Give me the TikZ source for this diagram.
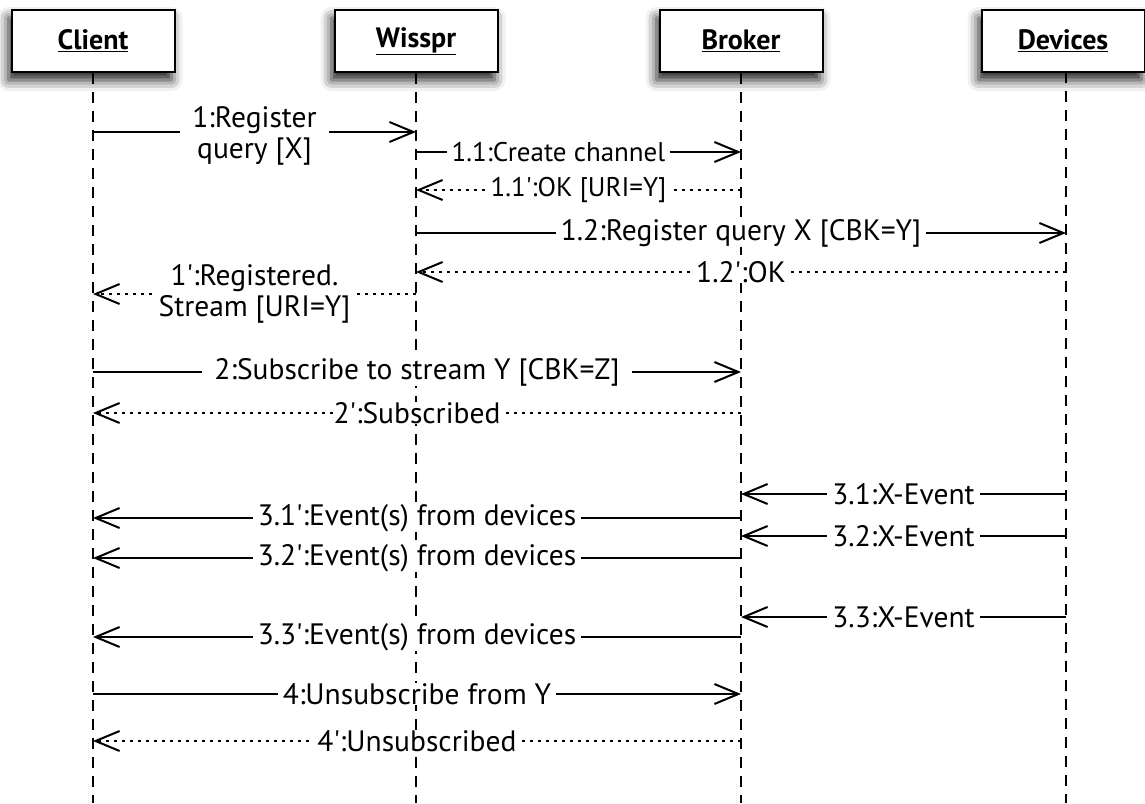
\documentclass[tikz,border=0pt]{standalone}
\usepackage{fontspec}
\setmainfont{PT Sans}
\usetikzlibrary{arrows.meta,shadows.blur}
\newcommand\pr{\textquotesingle}
\begin{document}
\begin{tikzpicture}[x=1pt,y=-1pt,
 actor/.style={draw, line width=2pt, fill=white, minimum width=163pt, minimum height=62pt,
   font=\fontsize{28}{30}\selectfont\bfseries,
   blur shadow={shadow xshift=-3pt, shadow yshift=-8pt, shadow blur radius=11pt, shadow opacity=90}},
 life/.style={line width=2pt, dash pattern=on 11pt off 8pt},
 call/.style={line width=2pt, -{Straight Barb[length=24pt,width=20pt,line width=2pt]}},
 reply/.style={call, dash pattern=on 3pt off 5pt},
 lbl/.style={fill=white, font=\fontsize{29.5}{31}\selectfont, inner xsep=5pt, inner ysep=0pt, align=center}]
\useasboundingbox (0,0) rectangle (1145,803);
\def\xC{93}\def\xW{416}\def\xB{741}\def\xD{1066}
% lifelines
\coordinate (lc) at (\xC,803);
\coordinate (lw) at (\xW,803);
\coordinate (lb) at (\xB,803);
\coordinate (ld) at (\xD,803);
\node[actor] (client) at (\xC,41) {\underline{Client}};
\node[actor] (wisspr) at (\xW,41) {\underline{Wisspr}};
\node[actor] (broker) at (\xB,41) {\underline{Broker}};
\node[actor] (devices) at (1063,41) {\underline{Devices}};
\draw[life] (client.south) -- (lc);
\draw[life] (wisspr.south) -- (lw);
\draw[life] (broker.south) -- (lb);
\draw[life] (\xD,72) coordinate (dtop) -- (ld);
% message end points
\foreach \n/\y in {1/132,2/152,3/190,4/233,5/272,6/294,7/372,8/413,9/494,10/518,11/536,12/558,13/617,14/637,15/694,16/741}{
  \coordinate (c\n) at (\xC,\y);
  \coordinate (w\n) at (\xW,\y);
  \coordinate (b\n) at (\xB,\y);
  \coordinate (d\n) at (\xD,\y);
}
\draw[call] (c1) -- node[lbl, inner xsep=12pt, yshift=-4pt] (t1) {1:Register\\query [X]} (w1);
\draw[call] (w2) -- node[lbl, font=\fontsize{27}{29}\selectfont, xshift=-20pt, inner xsep=5pt] (t2) {1.1:Create channel} (b2);
\draw[reply] (b3) -- node[lbl, font=\fontsize{27}{29}\selectfont] (t3) {1.1\pr:OK [URI=Y]} (w3);
\draw[call] (w4) -- node[lbl] (t4) {1.2:Register query X [CBK=Y]} (d4);
\draw[reply] (d5) -- node[lbl, inner xsep=1pt] (t5) {1.2\pr:OK} (w5);
\draw[reply] (w6) -- node[lbl] (t6) {1\pr:Registered.\\Stream [URI=Y]} (c6);
\draw[call] (c7) -- node[lbl, inner xsep=12pt] (t7) {2:Subscribe to stream Y [CBK=Z]} (b7);
\draw[reply] (b8) -- node[lbl, inner xsep=1pt] (t8) {2\pr:Subscribed} (c8);
\draw[call] (d9) -- node[lbl] (t9) {3.1:X-Event} (b9);
\draw[call] (b10) -- node[lbl] (t10) {3.1\pr:Event(s) from devices} (c10);
\draw[call] (d11) -- node[lbl] (t11) {3.2:X-Event} (b11);
\draw[call] (b12) -- node[lbl] (t12) {3.2\pr:Event(s) from devices} (c12);
\draw[call] (d13) -- node[lbl] (t13) {3.3:X-Event} (b13);
\draw[call] (b14) -- node[lbl] (t14) {3.3\pr:Event(s) from devices} (c14);
\draw[call] (c15) -- node[lbl] (t15) {4:Unsubscribe from Y} (b15);
\draw[reply] (b16) -- node[lbl] (t16) {4\pr:Unsubscribed} (c16);
\end{tikzpicture}
\end{document}
